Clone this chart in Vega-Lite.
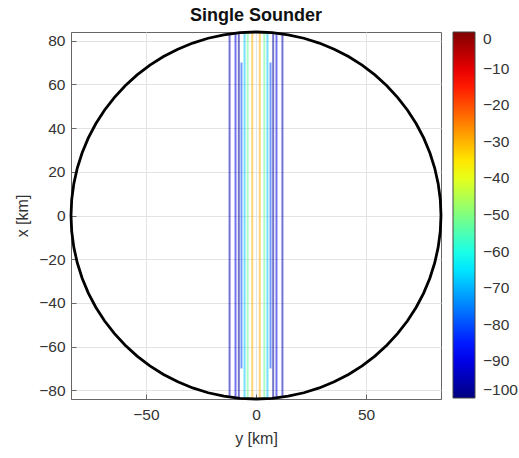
{
  "$schema": "https://vega.github.io/schema/vega-lite/v6.json",
  "width": 370,
  "height": 367,
  "autosize": {"type": "none"},
  "padding": {"left": 71, "top": 32, "right": 78, "bottom": 59},
  "background": "white",
  "title": {"text": "Single Sounder", "font": "Liberation Sans", "fontSize": 18, "fontWeight": "bold", "color": "#111", "offset": 1, "anchor": "middle"},
  "config": {
    "view": {"stroke": "#666", "strokeWidth": 1},
    "axis": {"labelFont": "Liberation Sans", "labelFontSize": 15.5, "labelColor": "#333", "titleFont": "Liberation Sans", "titleFontSize": 16, "titleColor": "#333", "titleFontWeight": "normal", "gridColor": "#e3e3e3", "domainColor": "#666", "tickColor": "#666", "tickSize": -5, "labelPadding": 13},
    "legend": {"labelFont": "Liberation Sans", "labelFontSize": 15.5, "labelColor": "#333"}
  },
  "datasets": {
    "circle": [
      {"i": 0, "h": 84, "v": 0}, {"i": 1, "h": 83.68, "v": 7.32}, {"i": 2, "h": 82.72, "v": 14.59}, {"i": 3, "h": 81.14, "v": 21.74}, {"i": 4, "h": 78.93, "v": 28.73}, {"i": 5, "h": 76.13, "v": 35.5}, {"i": 6, "h": 72.75, "v": 42}, {"i": 7, "h": 68.81, "v": 48.18}, {"i": 8, "h": 64.35, "v": 53.99}, {"i": 9, "h": 59.4, "v": 59.4}, {"i": 10, "h": 53.99, "v": 64.35}, {"i": 11, "h": 48.18, "v": 68.81}, {"i": 12, "h": 42, "v": 72.75}, {"i": 13, "h": 35.5, "v": 76.13}, {"i": 14, "h": 28.73, "v": 78.93}, {"i": 15, "h": 21.74, "v": 81.14}, {"i": 16, "h": 14.59, "v": 82.72}, {"i": 17, "h": 7.32, "v": 83.68}, {"i": 18, "h": 0, "v": 84},
      {"i": 19, "h": -7.32, "v": 83.68}, {"i": 20, "h": -14.59, "v": 82.72}, {"i": 21, "h": -21.74, "v": 81.14}, {"i": 22, "h": -28.73, "v": 78.93}, {"i": 23, "h": -35.5, "v": 76.13}, {"i": 24, "h": -42, "v": 72.75}, {"i": 25, "h": -48.18, "v": 68.81}, {"i": 26, "h": -53.99, "v": 64.35}, {"i": 27, "h": -59.4, "v": 59.4}, {"i": 28, "h": -64.35, "v": 53.99}, {"i": 29, "h": -68.81, "v": 48.18}, {"i": 30, "h": -72.75, "v": 42}, {"i": 31, "h": -76.13, "v": 35.5}, {"i": 32, "h": -78.93, "v": 28.73}, {"i": 33, "h": -81.14, "v": 21.74}, {"i": 34, "h": -82.72, "v": 14.59}, {"i": 35, "h": -83.68, "v": 7.32}, {"i": 36, "h": -84, "v": 0},
      {"i": 37, "h": -83.68, "v": -7.32}, {"i": 38, "h": -82.72, "v": -14.59}, {"i": 39, "h": -81.14, "v": -21.74}, {"i": 40, "h": -78.93, "v": -28.73}, {"i": 41, "h": -76.13, "v": -35.5}, {"i": 42, "h": -72.75, "v": -42}, {"i": 43, "h": -68.81, "v": -48.18}, {"i": 44, "h": -64.35, "v": -53.99}, {"i": 45, "h": -59.4, "v": -59.4}, {"i": 46, "h": -53.99, "v": -64.35}, {"i": 47, "h": -48.18, "v": -68.81}, {"i": 48, "h": -42, "v": -72.75}, {"i": 49, "h": -35.5, "v": -76.13}, {"i": 50, "h": -28.73, "v": -78.93}, {"i": 51, "h": -21.74, "v": -81.14}, {"i": 52, "h": -14.59, "v": -82.72}, {"i": 53, "h": -7.32, "v": -83.68}, {"i": 54, "h": 0, "v": -84},
      {"i": 55, "h": 7.32, "v": -83.68}, {"i": 56, "h": 14.59, "v": -82.72}, {"i": 57, "h": 21.74, "v": -81.14}, {"i": 58, "h": 28.73, "v": -78.93}, {"i": 59, "h": 35.5, "v": -76.13}, {"i": 60, "h": 42, "v": -72.75}, {"i": 61, "h": 48.18, "v": -68.81}, {"i": 62, "h": 53.99, "v": -64.35}, {"i": 63, "h": 59.4, "v": -59.4}, {"i": 64, "h": 64.35, "v": -53.99}, {"i": 65, "h": 68.81, "v": -48.18}, {"i": 66, "h": 72.75, "v": -42}, {"i": 67, "h": 76.13, "v": -35.5}, {"i": 68, "h": 78.93, "v": -28.73}, {"i": 69, "h": 81.14, "v": -21.74}, {"i": 70, "h": 82.72, "v": -14.59}, {"i": 71, "h": 83.68, "v": -7.32}, {"i": 72, "h": 84, "v": 0}
    ],
    "contours": [
      {"line": "a1", "h": -12, "v": 83.14, "level": -95}, {"line": "a1", "h": -12, "v": -83.14, "level": -95},
      {"line": "a2", "h": 12, "v": 83.14, "level": -95}, {"line": "a2", "h": 12, "v": -83.14, "level": -95},
      {"line": "b1", "h": -9.3, "v": 83.48, "level": -90}, {"line": "b1", "h": -9.3, "v": -83.48, "level": -90},
      {"line": "b2", "h": 9.3, "v": 83.48, "level": -90}, {"line": "b2", "h": 9.3, "v": -83.48, "level": -90},
      {"line": "c1", "h": -7.8, "v": 83.64, "level": -97}, {"line": "c1", "h": -7.8, "v": -83.64, "level": -97},
      {"line": "c2", "h": 7.8, "v": 83.64, "level": -97}, {"line": "c2", "h": 7.8, "v": -83.64, "level": -97},
      {"line": "d1", "h": -6.6, "v": 70, "level": -80}, {"line": "d1", "h": -6.6, "v": -70, "level": -80},
      {"line": "d2", "h": 6.6, "v": 70, "level": -80}, {"line": "d2", "h": 6.6, "v": -70, "level": -80},
      {"line": "e1", "h": -5.2, "v": 83.84, "level": -68}, {"line": "e1", "h": -5.2, "v": -83.84, "level": -68},
      {"line": "e2", "h": 5.2, "v": 83.84, "level": -68}, {"line": "e2", "h": 5.2, "v": -83.84, "level": -68},
      {"line": "f1", "h": -3.8, "v": 83.91, "level": -52}, {"line": "f1", "h": -3.8, "v": -83.91, "level": -52},
      {"line": "f2", "h": 3.8, "v": 83.91, "level": -52}, {"line": "f2", "h": 3.8, "v": -83.91, "level": -52},
      {"line": "g1", "h": -1.7, "v": 83.98, "level": -30}, {"line": "g1", "h": -1.7, "v": -83.98, "level": -30},
      {"line": "g2", "h": 1.7, "v": 83.98, "level": -30}, {"line": "g2", "h": 1.7, "v": -83.98, "level": -30}
    ]
  },
  "layer": [
    {
      "data": {"name": "contours"},
      "mark": {"type": "line", "strokeWidth": 2, "strokeOpacity": 0.55, "clip": true},
      "encoding": {
        "x": {"field": "h", "type": "quantitative", "scale": {"domain": [-84, 84], "nice": false, "zero": false},
              "axis": {"values": [-50, 0, 50], "title": "y [km]", "titlePadding": 8}},
        "y": {"field": "v", "type": "quantitative", "scale": {"domain": [-84, 84], "nice": false, "zero": false},
              "axis": {"values": [-80, -60, -40, -20, 0, 20, 40, 60, 80], "title": "x [km]", "labelPadding": 11, "titlePadding": 8}},
        "detail": {"field": "line"},
        "order": {"field": "v", "type": "quantitative"},
        "color": {"field": "level", "type": "quantitative",
                  "scale": {"domain": [-100, -87.5, -62.5, -37.5, -12.5, 0], "range": ["#000080", "#0000ff", "#00ffff", "#ffff00", "#ff0000", "#800000"], "interpolate": "rgb"},
                  "legend": {"orient": "none", "legendX": 382, "legendY": 0, "direction": "vertical", "gradientLength": 366, "gradientThickness": 22, "title": null, "values": [-100, -90, -80, -70, -60, -50, -40, -30, -20, -10, 0], "gradientStrokeColor": "#444", "gradientStrokeWidth": 1, "labelOffset": 8}}
      }
    },
    {
      "data": {"name": "circle"},
      "mark": {"type": "line", "color": "black", "strokeWidth": 2.8},
      "encoding": {
        "x": {"field": "h", "type": "quantitative"},
        "y": {"field": "v", "type": "quantitative"},
        "order": {"field": "i", "type": "quantitative"}
      }
    }
  ]
}
